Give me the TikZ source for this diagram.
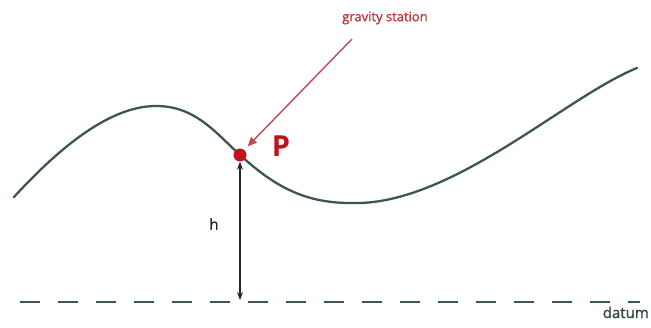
\documentclass[tikz,border=0pt]{standalone}
\usepackage{fontspec}
\setmainfont{Open Sans}
\newfontfamily\lblfont[FakeBold=1.2]{Open Sans}
\usetikzlibrary{arrows.meta,positioning}
\definecolor{ground}{HTML}{3E5652}
\definecolor{stared}{HTML}{C0141C}
\definecolor{labred}{HTML}{B8393B}
\begin{document}
\begin{tikzpicture}[x=1pt, y=1pt,
  surf/.style={line width=2.3pt, ground, line cap=round},
  datumline/.style={line width=2.4pt, ground, dash pattern=on 20pt off 18pt},
  redarr/.style={-{Triangle[length=9pt, width=8pt]}, line width=1.4pt, labred!90},
  harr/.style={{Stealth[length=8pt, width=6pt]}-{Stealth[length=8pt, width=6pt]}, line width=1.1pt, black!85},
  lbl/.style={font=\lblfont\fontsize{13}{15}\selectfont, inner sep=1pt},
  biglbl/.style={font=\lblfont\fontsize{15}{17}\selectfont, inner sep=0pt}]
\useasboundingbox (0,0) rectangle (651,327);
% ground surface
\draw[surf] (14,130) .. controls (60,180) and (110,221) .. (156,221)
  .. controls (195,221) and (215,195) .. (240,172)
  .. controls (270,145) and (300,124) .. (350,124)
  .. controls (450,120) and (565,230) .. (637,259);
% datum
\coordinate (d0) at (20,25);
\coordinate (d1) at (640,25);
\draw[datumline] (d0) -- (d1);
\node[biglbl, anchor=base east, ground!80!black] (datum) at (649,9) {datum};
% station
\node[circle, fill=stared, inner sep=0pt, minimum size=13pt] (P) at (240,172) {};
\node[font=\fontsize{29}{32}\selectfont\bfseries, stared, inner sep=0pt] (Plab) at (281,181) {P};
\node[lbl, labred] (grav) at (385,309) {gravity station};
\coordinate (tail) at (352,288);
\draw[redarr] (tail) -- ([shift={(3pt,4pt)}]P.north east);
% height
\coordinate (foot) at (240,27);
\draw[harr] (foot) -- (P.south);
\node[biglbl, black!85] (h) at (214,103) {h};
\end{tikzpicture}
\end{document}
